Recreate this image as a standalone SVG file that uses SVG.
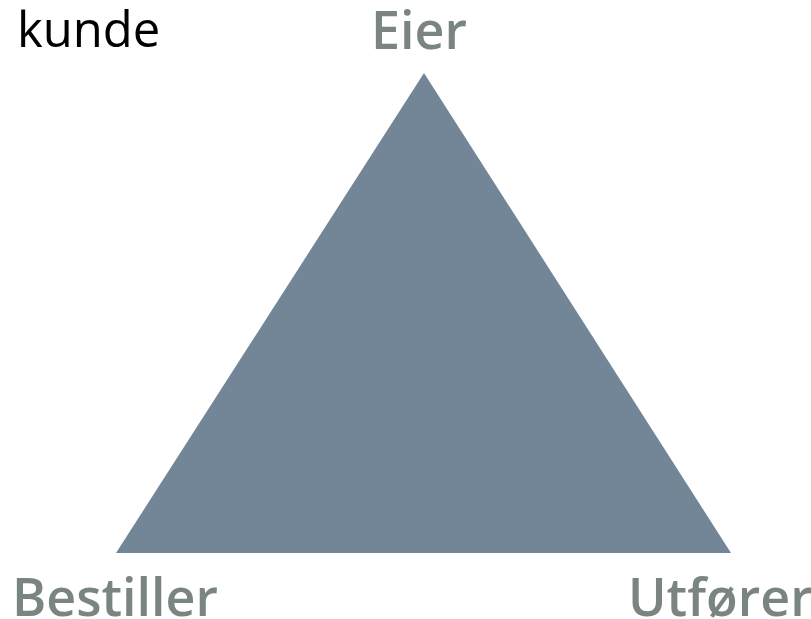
<svg xmlns="http://www.w3.org/2000/svg" width="811" height="619" viewBox="0 0 811 619">
<style>
.lbl{font-family:"Open Sans","Liberation Sans",sans-serif;font-weight:600;font-size:52px;fill:#7a8580}
.title{font-family:"Open Sans","Liberation Sans",sans-serif;font-size:49px;fill:#000}
</style>
<rect width="811" height="619" fill="#fff"/>
<g id="triangle"><polygon points="424,73 116,553 731,553" fill="#738698"/></g>
<g id="kunde"><text class="title" x="17" y="47">kunde</text></g>
<g id="eier"><text class="lbl" x="371" y="49">Eier</text></g>
<g id="bestiller"><text class="lbl" x="12" y="616">Bestiller</text></g>
<g id="utforer"><text class="lbl" x="628" y="616">Utfører</text></g>
<g id="connectors"></g>
</svg>
